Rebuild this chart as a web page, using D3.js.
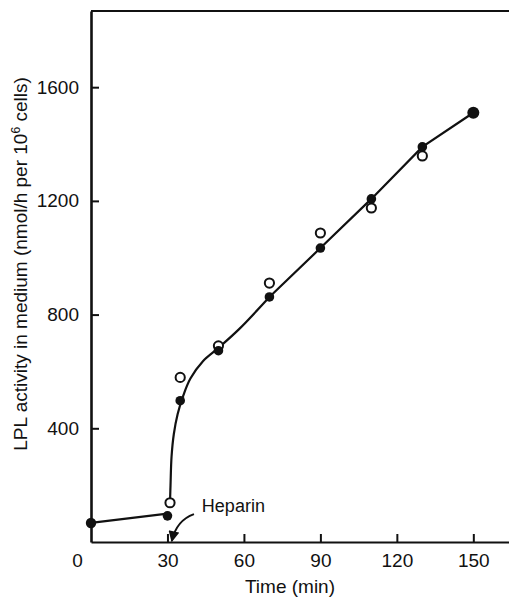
<!DOCTYPE html>
<html>
<head>
<meta charset="utf-8">
<script src="https://cdn.jsdelivr.net/npm/d3@7"></script>
<style>
  body { margin: 0; background: #fff; }
  text { font-family: "Liberation Sans", Arial, sans-serif; fill: #111; }
</style>
</head>
<body>
<script>
// values
const filledTimes = [0, 30, 35, 50, 70, 90, 110, 130, 150]
const filledLPL = [67, 92, 497, 673, 862, 1034, 1207, 1390, 1510]
const openTimes = [31, 35, 50, 70, 90, 110, 130]
const openLPL = [138, 579, 690, 911, 1087, 1175, 1358]

// hand drawn curve through the points
const basalFit = [[0, 67], [30, 100]]
const riseFit = [[31, 140], [31.2, 200], [31.6, 300], [32.5, 380], [34, 450], [36, 510],
  [39, 575], [44, 637], [50, 683], [58, 748], [70, 862]]
const lateFit = [[70, 862], [90, 1034], [110, 1207], [130, 1390], [150, 1510]]

// heparin arrow (start, control, tip) in data units
const heparinArrow = [[40.4, 98], [33.5, 76], [31.7, 3]]

const xTicks = [0, 30, 60, 90, 120, 150]
const yTicks = [400, 800, 1200, 1600]

const W = 509, H = 597
const FONT = '"Liberation Sans", Arial, sans-serif'

const svg = d3.select('body').append('svg')
  .attr('width', W)
  .attr('height', H)

const x = d3.scaleLinear().domain([0, 164]).range([91, 509])
const y = d3.scaleLinear().domain([0, 1868]).range([542, 11])

svg.append('defs').append('marker')
  .attr('id', 'head')
  .attr('viewBox', '0 0 10 10')
  .attr('refX', 9).attr('refY', 5)
  .attr('markerWidth', 12).attr('markerHeight', 11)
  .attr('markerUnits', 'userSpaceOnUse')
  .attr('orient', 'auto')
  .append('path')
  .attr('d', 'M0,0 L10,5 L0,10 z')
  .attr('fill', '#111')

// axes
const yAxis = svg.append('g')
  .attr('transform', `translate(${x(0)},0)`)
  .call(d3.axisLeft(y).tickValues(yTicks).tickFormat(d3.format('d'))
    .tickSizeInner(-8).tickSizeOuter(0).tickPadding(12))
yAxis.select('.domain').attr('stroke', '#111').attr('stroke-width', 2.6)
yAxis.selectAll('.tick line').attr('stroke', '#111').attr('stroke-width', 2)
yAxis.selectAll('.tick text').attr('font-size', 19).style('font-family', FONT)

const xAxis = svg.append('g')
  .attr('transform', `translate(0,${y(0)})`)
  .call(d3.axisBottom(x).tickValues(xTicks).tickFormat(d3.format('d'))
    .tickSizeInner(-8).tickSizeOuter(0).tickPadding(12))
xAxis.select('.domain').attr('stroke', '#111').attr('stroke-width', 2.2)
xAxis.selectAll('.tick line').attr('stroke', '#111').attr('stroke-width', 2)
  .filter(d => d === 0).remove()
xAxis.selectAll('.tick text').attr('font-size', 19).style('font-family', FONT)
  .filter(d => d === 0).attr('dx', -14)

// top frame line
svg.append('line')
  .attr('x1', x(0)).attr('x2', x.range()[1])
  .attr('y1', y.range()[1]).attr('y2', y.range()[1])
  .attr('stroke', '#111').attr('stroke-width', 2)

// fitted curve
const line = d3.line().x(d => x(d[0])).y(d => y(d[1]))
svg.append('path').attr('d', line(basalFit))
  .attr('fill', 'none').attr('stroke', '#111').attr('stroke-width', 2.2)
svg.append('path').attr('d', line.curve(d3.curveCatmullRom.alpha(0.5))(riseFit))
  .attr('fill', 'none').attr('stroke', '#111').attr('stroke-width', 2.2)
svg.append('path').attr('d', d3.line().x(d => x(d[0])).y(d => y(d[1]))(lateFit))
  .attr('fill', 'none').attr('stroke', '#111').attr('stroke-width', 2.2)

// open circles
svg.selectAll('circle.open')
  .data(openTimes.map((t, i) => [t, openLPL[i]]))
  .join('circle')
  .attr('class', 'open')
  .attr('cx', d => x(d[0]))
  .attr('cy', d => y(d[1]))
  .attr('r', 4.6)
  .attr('fill', '#fff')
  .attr('stroke', '#111')
  .attr('stroke-width', 2)

// filled circles
svg.selectAll('circle.closed')
  .data(filledTimes.map((t, i) => [t, filledLPL[i]]))
  .join('circle')
  .attr('class', 'closed')
  .attr('cx', d => x(d[0]))
  .attr('cy', d => y(d[1]))
  .attr('r', d => d[0] === 150 ? 6 : (d[0] === 0 ? 5.2 : 4.8))
  .attr('fill', '#111')

// heparin annotation
const [a0, a1, a2] = heparinArrow
const arrow = d3.path()
arrow.moveTo(x(a0[0]), y(a0[1]))
arrow.quadraticCurveTo(x(a1[0]), y(a1[1]), x(a2[0]), y(a2[1]))
svg.append('path')
  .attr('d', arrow.toString())
  .attr('fill', 'none')
  .attr('stroke', '#111')
  .attr('stroke-width', 2)
  .attr('marker-end', 'url(#head)')

svg.append('text')
  .attr('x', x(43.5))
  .attr('y', y(105))
  .attr('font-size', 18)
  .text('Heparin')

// axis titles
svg.append('text')
  .attr('x', 290)
  .attr('y', 593)
  .attr('text-anchor', 'middle')
  .attr('font-size', 19)
  .text('Time (min)')

const yTitle = svg.append('text')
  .attr('transform', 'translate(27,264) rotate(-90)')
  .attr('text-anchor', 'middle')
  .attr('font-size', 19)
yTitle.append('tspan').text('LPL activity in medium (nmol/h per 10')
yTitle.append('tspan').attr('dy', -7).attr('font-size', 12).text('6')
yTitle.append('tspan').attr('dy', 7).text(' cells)')
</script>
</body>
</html>
